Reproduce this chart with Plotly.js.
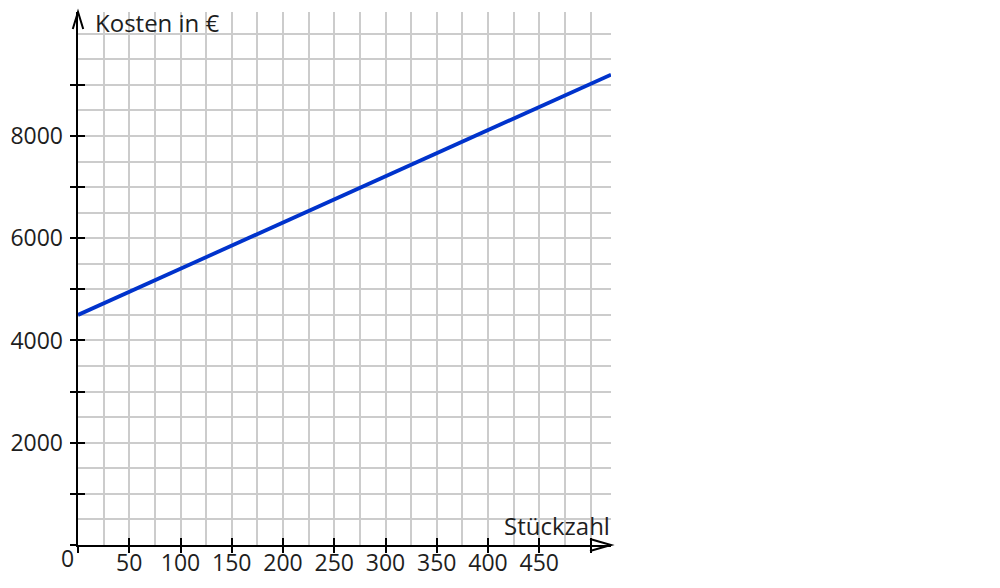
<!DOCTYPE html>
<html>
<head>
<meta charset="utf-8">
<script src="https://cdn.plot.ly/plotly-3.0.1.min.js"></script>
<style>html,body{margin:0;padding:0;background:#fff}</style>
</head>
<body>
<div id="chart" style="width:1000px;height:588px"></div>
<script>
// Data
const stueckzahl = [0, 520];
const kosten = [4500, 9200];

// Tick labels
const xOuterTicks = [0, 50, 100, 150, 200, 250, 300, 350, 400, 450, 500];
const xTickVals = [50, 100, 150, 200, 250, 300, 350, 400, 450, 500];
const xTickText = ['50', '100', '150', '200', '250', '300', '350', '400', '450', ''];
const yOuterTicks = [0, 1000, 2000, 3000, 4000, 5000, 6000, 7000, 8000, 9000];
const yTickVals = [1000, 2000, 3000, 4000, 5000, 6000, 7000, 8000, 9000];
const yTickText = ['', '2000', '', '4000', '', '6000', '', '8000', ''];

const xRange = [0, 520];
const yRange = [0, 10425];

const FONT = 'Open Sans, Noto Sans, sans-serif';
const TXT = '#1e1e1e';

const traces = [
  {x: stueckzahl, y: kosten, mode: 'lines', line: {color: '#0033cc', width: 3.8}, xaxis: 'x', yaxis: 'y', hoverinfo: 'skip'},
  {x: [], y: [], mode: 'lines', xaxis: 'x2', yaxis: 'y2', hoverinfo: 'skip'},
  {x: [], y: [], mode: 'lines', xaxis: 'x3', yaxis: 'y3', hoverinfo: 'skip'}
];

const gridAxis = (range, dtick) => ({
  range: range, tickmode: 'linear', tick0: 0, dtick: dtick,
  showgrid: true, gridcolor: '#cccccc', gridwidth: 2,
  showticklabels: false, ticks: '', zeroline: false, showline: false, fixedrange: true
});

const layout = {
  width: 1000, height: 588,
  margin: {l: 78, r: 389, t: 12, b: 43},
  paper_bgcolor: '#ffffff', plot_bgcolor: 'rgba(0,0,0,0)',
  showlegend: false,
  font: {family: FONT, color: TXT, size: 23},
  xaxis: gridAxis(xRange, 25),
  yaxis: gridAxis(yRange, 500),
  xaxis2: {
    overlaying: 'x', anchor: 'y2', range: xRange,
    tickmode: 'array', tickvals: xOuterTicks,
    ticks: 'outside', ticklen: 6, tickwidth: 2, tickcolor: '#000',
    showticklabels: false,
    showline: true, linecolor: '#000', linewidth: 2,
    showgrid: false, zeroline: false
  },
  yaxis2: {
    overlaying: 'y', anchor: 'x2', range: yRange,
    tickmode: 'array', tickvals: yOuterTicks,
    ticks: 'outside', ticklen: 6, tickwidth: 2, tickcolor: '#000',
    showticklabels: false,
    showline: true, linecolor: '#000', linewidth: 2,
    showgrid: false, zeroline: false
  },
  xaxis3: {
    overlaying: 'x', anchor: 'y3', range: xRange,
    tickmode: 'array', tickvals: xTickVals, ticktext: xTickText,
    ticks: 'inside', ticklen: 7, tickwidth: 2, tickcolor: '#000',
    ticklabelstandoff: 2,
    tickfont: {family: FONT, size: 23, color: TXT},
    showline: false, showgrid: false, zeroline: false
  },
  yaxis3: {
    overlaying: 'y', anchor: 'x3', range: yRange,
    tickmode: 'array', tickvals: yTickVals, ticktext: yTickText,
    ticks: 'inside', ticklen: 7, tickwidth: 2, tickcolor: '#000',
    ticklabelstandoff: 14,
    tickfont: {family: FONT, size: 23, color: TXT},
    showline: false, showgrid: false, zeroline: false
  },
  shapes: [
    {type: 'path', xref: 'paper', yref: 'paper',
     path: 'M -0.0098,0.968 L 0,1 L 0.0098,0.968', line: {color: '#000', width: 2}},
    {type: 'path', xref: 'paper', yref: 'paper',
     path: 'M 0.9606,0.0113 L 1,0 L 0.9606,-0.0113', line: {color: '#000', width: 2}}
  ],
  annotations: [
    {text: 'Kosten in €', xref: 'paper', yref: 'paper', x: 0, y: 1, xanchor: 'left', yanchor: 'middle',
     xshift: 15, yshift: -10, showarrow: false, font: {family: FONT, size: 24, color: TXT}},
    {text: 'Stückzahl', xref: 'paper', yref: 'paper', x: 1, y: 0, xanchor: 'right', yanchor: 'middle',
     xshift: 1, yshift: 20, showarrow: false, font: {family: FONT, size: 24, color: TXT}},
    {text: '0', xref: 'paper', yref: 'paper', x: 0, y: 0, xanchor: 'center', yanchor: 'middle',
     xshift: -10.5, yshift: -13, showarrow: false, font: {family: FONT, size: 23, color: TXT}}
  ]
};

Plotly.newPlot('chart', traces, layout, {displayModeBar: false, staticPlot: true});
</script>
</body>
</html>
